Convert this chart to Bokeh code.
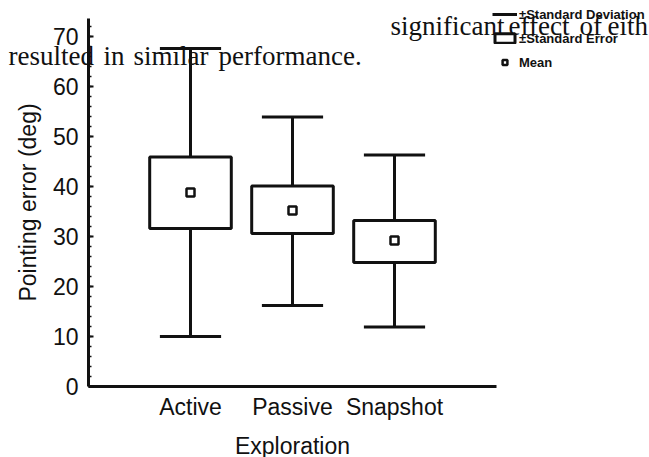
from bokeh.plotting import figure
from bokeh.models import Range1d, FixedTicker, Label, Legend, LegendItem, ColumnDataSource
from bokeh.embed import file_html
from bokeh.resources import INLINE

# ---- data ----
categories = ["Active", "Passive", "Snapshot"]
mean = [38.8, 35.2, 29.2]
se_low = [31.6, 30.6, 24.8]
se_high = [45.9, 40.1, 33.2]
sd_low = [10.0, 16.2, 11.9]
sd_high = [67.6, 53.9, 46.3]
y_ticks = [0, 10, 20, 30, 40, 50, 60, 70]
y_minor = list(range(0, 74, 2))
Y_TOP = 73.6

BOX_HALF = 0.4
CAP_HALF = 0.3
INK = "#111111"

W, H = 649, 457
# plot area geometry (pixels): axes cross at (88, 386); 102 px per category, 5 px per degree
ORIGIN_X, ORIGIN_Y = 88, 386
PX_PER_CAT, PX_PER_DEG = 102, 5.0

xpos = [i + 1 for i in range(len(categories))]
src = ColumnDataSource(dict(
    x=xpos,
    left=[x - BOX_HALF for x in xpos],
    right=[x + BOX_HALF for x in xpos],
    cap_l=[x - CAP_HALF for x in xpos],
    cap_r=[x + CAP_HALF for x in xpos],
    mean=mean, se_low=se_low, se_high=se_high, sd_low=sd_low, sd_high=sd_high,
))

x_range = Range1d(-ORIGIN_X / PX_PER_CAT, (W - ORIGIN_X) / PX_PER_CAT)
y_range = Range1d(-(H - ORIGIN_Y) / PX_PER_DEG, ORIGIN_Y / PX_PER_DEG)

p = figure(width=W, height=H, x_range=x_range, y_range=y_range,
           output_backend="svg", toolbar_location=None,
           min_border=0)
p.outline_line_color = None
p.xgrid.visible = False
p.ygrid.visible = False
p.background_fill_color = "white"
p.border_fill_color = "white"

whisk = p.segment(x0="x", y0="sd_low", x1="x", y1="sd_high", source=src,
                  line_color=INK, line_width=3)
p.segment(x0="cap_l", y0="sd_high", x1="cap_r", y1="sd_high", source=src,
          line_color=INK, line_width=3)
p.segment(x0="cap_l", y0="sd_low", x1="cap_r", y1="sd_low", source=src,
          line_color=INK, line_width=3)
box = p.quad(left="left", right="right", bottom="se_low", top="se_high", source=src,
             fill_color="white", line_color=INK, line_width=3)
dots = p.scatter(x="x", y="mean", source=src, marker="square", size=8,
                 fill_color="white", line_color=INK, line_width=2.5)

# axes (crossing at the origin, drawn inside the canvas)
font = "Liberation Sans"
for ax in (p.xaxis[0], p.yaxis[0]):
    ax.fixed_location = 0
    ax.axis_line_width = 3
    ax.axis_line_color = INK
    ax.major_label_text_font = font
    ax.major_label_text_font_size = "23px"
    ax.major_label_text_color = INK
    ax.axis_label_text_font = font
    ax.axis_label_text_font_size = "23px"
    ax.axis_label_text_font_style = "normal"
    ax.axis_label_text_color = INK

p.yaxis.bounds = (0, Y_TOP)
p.yaxis.ticker = FixedTicker(ticks=y_ticks, minor_ticks=y_minor)
p.yaxis.major_tick_in = 5
p.yaxis.major_tick_out = 0
p.yaxis.minor_tick_in = 3
p.yaxis.minor_tick_out = 0
p.yaxis.major_tick_line_width = 2
p.yaxis.minor_tick_line_width = 1.5
p.yaxis.major_tick_line_color = INK
p.yaxis.minor_tick_line_color = INK
p.yaxis.major_label_standoff = 10
p.yaxis.axis_label = "Pointing error (deg)"
p.yaxis.axis_label_standoff = 9

p.xaxis.bounds = (0, len(categories) + 1)
p.xaxis.ticker = FixedTicker(ticks=xpos, minor_ticks=[])
p.xaxis.major_label_overrides = {x: c for x, c in zip(xpos, categories)}
p.xaxis.major_tick_in = 0
p.xaxis.major_tick_out = 0
p.xaxis.minor_tick_in = 0
p.xaxis.minor_tick_out = 0
p.xaxis.major_label_standoff = 7
p.xaxis.axis_label = "Exploration"
p.xaxis.axis_label_standoff = 10

# legend (top right, overlapping the page text as in the scan)
legend = Legend(items=[
    LegendItem(label="±Standard Deviation", renderers=[whisk]),
    LegendItem(label="±Standard Error", renderers=[box]),
    LegendItem(label="Mean", renderers=[dots]),
], location=(492, H - 70))
legend.border_line_color = None
legend.background_fill_alpha = 0
legend.padding = 0
legend.margin = 0
legend.spacing = 8
legend.label_height = 16
legend.glyph_height = 12
legend.glyph_width = 25
legend.label_standoff = 2
legend.label_text_font = font
legend.label_text_font_size = "13px"
legend.label_text_font_style = "bold"
legend.label_text_color = INK
p.add_layout(legend)

# overlapping body text from the scanned page (canvas pixels: left x, baseline y)
words = [("resulted", 8, 55), ("in", 103, 55), ("similar", 133, 55),
         ("performance.", 218, 55), ("significant", 390, 25), ("effect", 508, 25),
         ("of", 579, 25), ("eith", 607, 25)]
for w, px, py in words:
    p.add_layout(Label(x=px, y=H - py, x_units="screen", y_units="screen",
                       text=w, text_font="Liberation Serif",
                       text_font_size="27px", text_color=INK,
                       text_baseline="alphabetic"))

open("out.html", "w").write(file_html(p, INLINE))
